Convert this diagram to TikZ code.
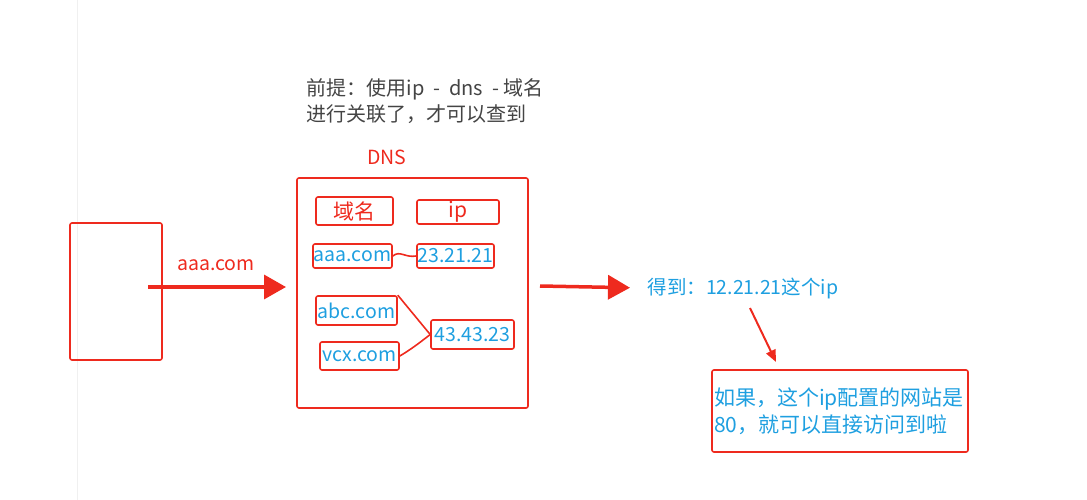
\documentclass[tikz,border=0pt]{standalone}
\usepackage{fontspec}
\setmainfont{Noto Sans CJK SC}
\usepackage{tikz}
\usetikzlibrary{arrows.meta,positioning}
\definecolor{pen}{HTML}{EE2A1E}
\definecolor{sky}{HTML}{1E9FE0}
\definecolor{note}{HTML}{444444}

\begin{document}
\begin{tikzpicture}[x=1pt,y=-1pt,
    box/.style={draw=pen, line width=1.6pt, rounded corners=2pt, inner sep=0pt},
    entry/.style={box, text=sky, font=\fontsize{19.5}{21}\selectfont},
    arrow/.style={pen, line width=3.5pt, -{Triangle[length=22pt,width=24pt]}},
    link/.style={pen, line width=1.6pt}
]
    \useasboundingbox (0,0) rectangle (1087,500);
    \draw[black!6, line width=1pt] (77,0) -- (77,500);

    % client
    \node[box, minimum width=92pt, minimum height=137pt] (client) at (116,291.5) {};
    \node[text=pen, font=\fontsize{19.5}{21}\selectfont] (query) at (216,265) {aaa.com};

    % note
    \node[text=note, font=\fontsize{20}{26}\selectfont, align=left, anchor=north west] (premise) at (303,75)
        {前提：使用ip \ - \ dns \ - 域名\\进行关联了，才可以查到};

    % DNS table
    \node[text=pen, font=\fontsize{19.5}{21}\selectfont] (dnslabel) at (387,157) {DNS};
    \node[box, minimum width=231pt, minimum height=230pt] (dns) at (412.5,293) {};
    \node[box, text=pen, font=\fontsize{21}{22}\selectfont, minimum width=77pt, minimum height=28pt] (hname) at (354.5,211) {域名};
    \node[box, text=pen, font=\fontsize{21}{22}\selectfont, minimum width=82pt, minimum height=24pt] (hip) at (458,212) {ip};
    \node[entry, minimum width=79pt, minimum height=24pt] (aaa) at (352.5,256) {aaa.com};
    \node[entry, minimum width=77pt, minimum height=24pt] (ipa) at (455.5,256) {23.21.21};
    \node[entry, minimum width=81pt, minimum height=29pt] (abc) at (356.5,310.5) {abc.com};
    \node[entry, minimum width=79pt, minimum height=28pt] (vcx) at (359.5,356) {vcx.com};
    \node[entry, minimum width=83pt, minimum height=29pt] (ipb) at (472.5,334.5) {43.43.23};

    \draw[link] (aaa.east) .. controls (400,250) and (405,258) .. (ipa.west);
    \draw[link] (abc.north east) -- (ipb.west);
    \draw[link] (vcx.east) .. controls (410,350) and (418,344) .. (ipb.west);

    % result
    \coordinate (qstart) at (148,287);
    \coordinate (qend) at (286,287);
    \draw[arrow] (qstart) -- (qend);
    \node[text=sky, font=\fontsize{19.5}{21}\selectfont, anchor=west] (got) at (644,288) {得到：12.21.21这个ip};
    \coordinate (rstart) at (540,286);
    \draw[arrow, shorten >=14pt] (rstart) -- (got.west);
    \node[box, text=sky, font=\fontsize{21}{27}\selectfont, align=left, text width=252pt, inner sep=2pt,
          minimum width=256pt, minimum height=82pt] (site) at (840,411) {如果，这个ip配置的网站是\\80，就可以直接访问到啦};
    \coordinate (tstart) at (750,308);
    \draw[pen, line width=2pt, -{Triangle[length=12pt,width=10pt]}] (tstart) -- (776,362);
\end{tikzpicture}
\end{document}
